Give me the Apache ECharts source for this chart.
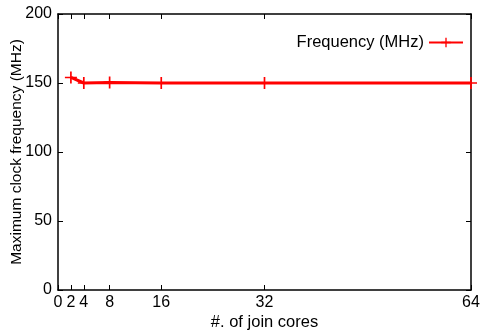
<!DOCTYPE html>
<html><head><meta charset="utf-8">
<script src="https://cdn.jsdelivr.net/npm/echarts@6/dist/echarts.min.js"></script>
<style>html,body{margin:0;padding:0;background:#fff}#c{width:480px;height:335px}</style>
</head><body><div id="c"></div>
<script>
const cores = [2, 4, 8, 16, 32, 64];
const freq = [154, 150, 150.4, 150, 150, 150];
const xTicks = [0, 2, 4, 8, 16, 32, 64];
const seriesName = 'Frequency (MHz)';

const FONT = 'Liberation Sans';
const plus = 'path://M0,4.3H10V5.7H0Z M4.3,0H5.7V10H4.3Z';
const chart = echarts.init(document.getElementById('c'));
const tick = {show: true, inside: true, length: 5, lineStyle: {color: '#000', width: 1}};
chart.setOption({
  animation: false,
  textStyle: {fontFamily: FONT},
  grid: {left: 58, right: 9, top: 14, bottom: 45, outerBoundsMode: 'none', containLabel: false},
  legend: {
    data: [seriesName], right: 11, top: 29, align: 'right', itemWidth: 34, itemHeight: 12,
    textStyle: {fontFamily: FONT, fontSize: 16.5, color: '#000'}, itemGap: 4
  },
  xAxis: [{
    type: 'value', min: 0, max: 64,
    name: '#. of join cores', nameLocation: 'middle', nameGap: 24, nameMoveOverlap: false,
    nameTextStyle: {fontFamily: FONT, fontSize: 16.5, color: '#000'},
    axisLine: {show: true, lineStyle: {color: '#000', width: 1.5}},
    axisTick: Object.assign({customValues: xTicks}, tick),
    axisLabel: {customValues: xTicks, fontFamily: FONT, fontSize: 16, color: '#000', margin: 5},
    splitLine: {show: false}
  }, {
    type: 'value', min: 0, max: 64, position: 'top',
    axisLine: {show: true, onZero: false, lineStyle: {color: '#000', width: 1.5}},
    axisTick: Object.assign({customValues: xTicks}, tick),
    axisLabel: {show: false}, splitLine: {show: false}
  }],
  yAxis: [{
    type: 'value', min: 0, max: 200, interval: 50,
    name: 'Maximum clock frequency (MHz)', nameLocation: 'middle', nameGap: 33, nameMoveOverlap: false,
    nameTextStyle: {fontFamily: FONT, fontSize: 15.5, color: '#000'},
    axisLine: {show: true, lineStyle: {color: '#000', width: 1.5}},
    axisTick: tick,
    axisLabel: {fontFamily: FONT, fontSize: 16, color: '#000', margin: 6},
    splitLine: {show: false}
  }, {
    type: 'value', min: 0, max: 200, interval: 50, position: 'right',
    axisLine: {show: true, onZero: false, lineStyle: {color: '#000', width: 1.5}},
    axisTick: tick, axisLabel: {show: false}, splitLine: {show: false}
  }],
  series: [{
    name: seriesName, type: 'line',
    data: cores.map((c, i) => [c, freq[i]]),
    symbol: plus, symbolSize: 12, showAllSymbol: true,
    lineStyle: {color: '#ff0000', width: 3},
    itemStyle: {color: '#ff0000'}
  }]
});
</script></body></html>
